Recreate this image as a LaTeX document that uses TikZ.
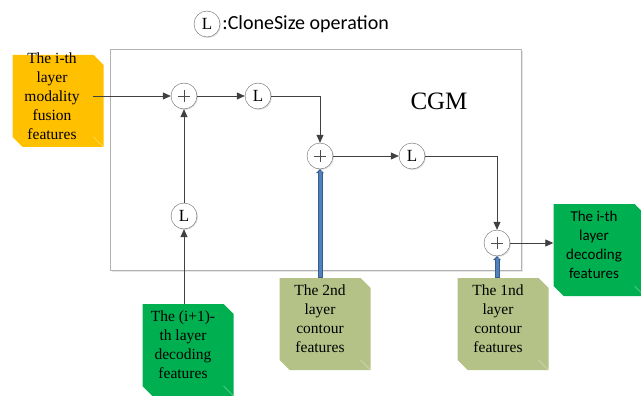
\documentclass[tikz,border=0pt]{standalone}
\usepackage{fontspec}
\setmainfont{Liberation Serif}
\setsansfont{Carlito}
\usetikzlibrary{positioning,calc,shadows,arrows.meta}

\definecolor{fusionorange}{HTML}{FFC000}
\definecolor{decodegreen}{HTML}{00B050}
\definecolor{contourolive}{HTML}{B4C287}
\definecolor{feedblue}{HTML}{4F81BD}
\definecolor{feedrim}{HTML}{385D8A}

\begin{document}
\begin{tikzpicture}[x=1pt,y=-1pt,
  line/.style={draw=black!75,line width=0.8pt},
  flow/.style={line,-{Triangle[length=8pt,width=7pt]}},
  feedout/.style={draw=feedrim,line width=5pt,-{Triangle[length=4pt,width=8pt]}},
  feedin/.style={draw=feedblue,line width=3pt,shorten >=1.5pt,shorten <=1pt},
  opnode/.style={circle,draw=black!60,fill=white,minimum size=26pt,inner sep=0pt,
    drop shadow={shadow xshift=1pt,shadow yshift=-1pt,opacity=0.25}},
  clonenode/.style={opnode,font=\fontsize{17}{17}\selectfont},
  sumnode/.style={opnode,path picture={
    \draw[black!70,line width=0.6pt] ([xshift=-6pt]path picture bounding box.center) -- ++(12pt,0)
      ([yshift=-6pt]path picture bounding box.center) -- ++(0,12pt);}},
  featbox/.style={rectangle,draw=none,minimum width=91pt,minimum height=92pt,inner sep=0pt,
    path picture={
      \fill[#1] (path picture bounding box.north west)
        -- ([xshift=-10pt]path picture bounding box.north east)
        -- ([yshift=-10pt]path picture bounding box.north east)
        -- (path picture bounding box.south east)
        -- ([xshift=10pt]path picture bounding box.south west)
        -- ([yshift=10pt]path picture bounding box.south west) -- cycle;
      \draw[white,opacity=0.45,line width=0.5pt]
        ([xshift=-10pt,yshift=10pt]path picture bounding box.south east)
        -- (path picture bounding box.south east);}},
  boxtext/.style={inner sep=0pt,align=center,xshift=-5pt,yshift=5pt,
    font=\fontsize{15.5}{19}\selectfont},
  frame/.style={draw=black!30,line width=0.8pt,fill=white,
    drop shadow={shadow xshift=2pt,shadow yshift=-2pt,opacity=0.2}}
]

\useasboundingbox (0,0) rectangle (641,396);

% legend
\node[clonenode] (tl) at (207,24) {L};
\node[right=2pt of tl,inner sep=0pt,font=\sffamily\fontsize{20}{20}\selectfont] (ttl) {:CloneSize operation};

% module frame
\draw[frame] (110,49) rectangle (521,270);
\node[font=\fontsize{25}{25}\selectfont] (cgm) at (439,101) {CGM};

% inputs and output
\node[featbox=fusionorange,label={[boxtext,xshift=-1pt]center:The i-th\\layer\\modality\\fusion\\features}] (obox) at (58,101) {};
\node[featbox=decodegreen,label={[boxtext]center:The (i+1)-\\th layer\\decoding\\features}] (gbox) at (188,350) {};
\node[featbox=contourolive,label={[boxtext]center:The 2nd\\layer\\contour\\features}] (cbox) at (325,324) {};
\node[featbox=contourolive,label={[boxtext]center:The 1nd\\layer\\contour\\features}] (dbox) at (503,324) {};
\node[featbox=decodegreen,label={[boxtext,font=\sffamily\fontsize{15}{19}\selectfont]center:The i-th\\layer\\decoding\\features}] (rbox) at (599,250) {};

% operations
\node[sumnode] (p1) at (184,96) {};
\node[clonenode] (l1) at (258,96) {L};
\node[sumnode] (p2) at (320,156) {};
\node[clonenode] (l2) at (412,156) {L};
\node[sumnode] (p3) at (497,243) {};
\node[clonenode] (l3) at (184,216) {L};

% connections
\coordinate (ostart) at ([xshift=-11pt]obox.east);
\draw[flow] (ostart |- p1) -- (p1);
\draw[flow] (p1) -- (l1);
\draw[flow] (l1) -| (p2);
\draw[flow] (p2) -- (l2);
\draw[flow] (l2) -| (p3);
\draw[flow] (p3) -- (p3 -| rbox.west);
\draw[flow] (l3) -- (p1);
\draw[flow] (l3 |- gbox.north) -- (l3);

\draw[feedout] (p2 |- cbox.north) -- (p2);
\draw[feedin] (p2 |- cbox.north) -- (p2);
\draw[feedout] (p3 |- dbox.north) -- (p3);
\draw[feedin] (p3 |- dbox.north) -- (p3);

\end{tikzpicture}
\end{document}
